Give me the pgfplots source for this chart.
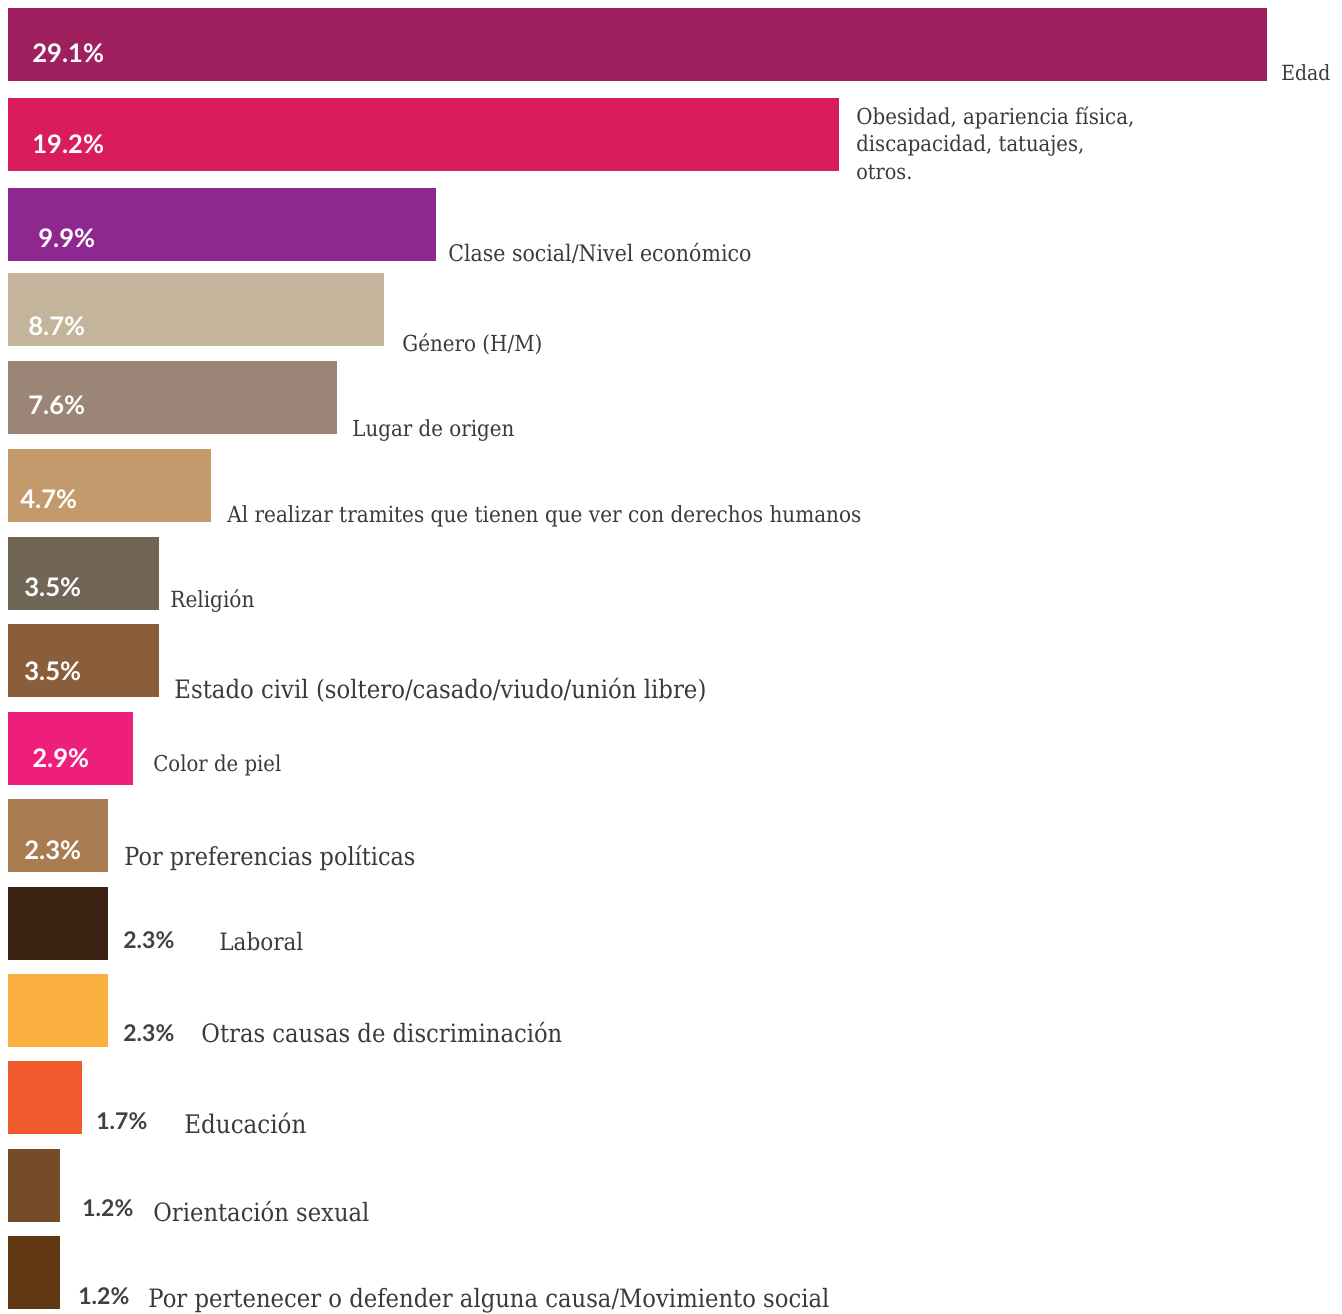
\documentclass[border=0pt]{standalone}
\usepackage{fontspec}
\usepackage{graphicx}
\usepackage{pgfplots}
\pgfplotsset{compat=1.18}

\newfontfamily\valfont{Lato}
\newfontfamily\labfont{DejaVu Serif}[FakeStretch=0.9]

\definecolor{c1}{HTML}{A01F5F}
\definecolor{c2}{HTML}{D91C5C}
\definecolor{c3}{HTML}{8E278F}
\definecolor{c4}{HTML}{C4B49B}
\definecolor{c5}{HTML}{9B8577}
\definecolor{c6}{HTML}{C39A6B}
\definecolor{c7}{HTML}{716556}
\definecolor{c8}{HTML}{8A5D3B}
\definecolor{c9}{HTML}{EE1F7A}
\definecolor{c10}{HTML}{A87C50}
\definecolor{c11}{HTML}{3C2314}
\definecolor{c12}{HTML}{FBB040}
\definecolor{c13}{HTML}{F15A2C}
\definecolor{c14}{HTML}{754C29}
\definecolor{c15}{HTML}{603913}
\definecolor{labgray}{HTML}{3A3A3A}
\definecolor{valgray}{HTML}{414042}

% one reference pixel = 0.5pt; x in percent, y in pixels from the top
\newlength\pxu
\setlength\pxu{0.5pt}
\newcommand\px[1]{{(#1-8)/43.265}}
% category label: left px, baseline px, width px, text
\newcommand\lab[4]{\node[anchor=base west,inner sep=0pt,text=labgray]
  at (axis cs:\px{#1},#2) {\resizebox{#3\pxu}{!}{\labfont #4}};}
% value label: left px, baseline px, size pt, colour, text
\newcommand\val[5]{\node[anchor=base west,inner sep=0pt,text=#4,
  font=\valfont\bfseries\fontsize{#3}{#3}\selectfont]
  at (axis cs:\px{#1},#2) {#5};}

\begin{document}
\begin{tikzpicture}
\begin{axis}[
  width=671pt, height=656.5pt, scale only axis,
  xmin=-0.18491, xmax=30.8332,
  ymin=0, ymax=1313, y dir=reverse,
  axis lines=none, ticks=none,
  clip=false,
]
\addplot[xbar, bar shift=0pt, bar width=73, fill=c1, draw=none] coordinates {(29.1,44.5)};
\addplot[xbar, bar shift=0pt, bar width=73, fill=c2, draw=none] coordinates {(19.2,134.5)};
\addplot[xbar, bar shift=0pt, bar width=73, fill=c3, draw=none] coordinates {(9.9,224.5)};
\addplot[xbar, bar shift=0pt, bar width=73, fill=c4, draw=none] coordinates {(8.7,309.5)};
\addplot[xbar, bar shift=0pt, bar width=73, fill=c5, draw=none] coordinates {(7.6,397.5)};
\addplot[xbar, bar shift=0pt, bar width=73, fill=c6, draw=none] coordinates {(4.7,485.5)};
\addplot[xbar, bar shift=0pt, bar width=73, fill=c7, draw=none] coordinates {(3.5,573.5)};
\addplot[xbar, bar shift=0pt, bar width=73, fill=c8, draw=none] coordinates {(3.5,660.5)};
\addplot[xbar, bar shift=0pt, bar width=73, fill=c9, draw=none] coordinates {(2.9,748.5)};
\addplot[xbar, bar shift=0pt, bar width=73, fill=c10, draw=none] coordinates {(2.3,835.5)};
\addplot[xbar, bar shift=0pt, bar width=73, fill=c11, draw=none] coordinates {(2.3,923.5)};
\addplot[xbar, bar shift=0pt, bar width=73, fill=c12, draw=none] coordinates {(2.3,1010.5)};
\addplot[xbar, bar shift=0pt, bar width=73, fill=c13, draw=none] coordinates {(1.7,1097.5)};
\addplot[xbar, bar shift=0pt, bar width=73, fill=c14, draw=none] coordinates {(1.2,1185.5)};
\addplot[xbar, bar shift=0pt, bar width=73, fill=c15, draw=none] coordinates {(1.2,1272.5)};

% values
\val{32}{62}{12.8}{white}{29.1\%}
\val{32}{153}{12.8}{white}{19.2\%}
\val{38}{247}{12.8}{white}{9.9\%}
\val{28}{335}{12.8}{white}{8.7\%}
\val{28}{414}{12.8}{white}{7.6\%}
\val{20}{508}{12.8}{white}{4.7\%}
\val{24}{596}{12.8}{white}{3.5\%}
\val{24}{680}{12.8}{white}{3.5\%}
\val{32}{767}{12.8}{white}{2.9\%}
\val{24}{859}{12.8}{white}{2.3\%}
\val{123}{948}{11.5}{valgray}{2.3\%}
\val{123}{1041}{11.5}{valgray}{2.3\%}
\val{96}{1129}{11.5}{valgray}{1.7\%}
\val{82}{1216}{11.5}{valgray}{1.2\%}
\val{78}{1304}{11.5}{valgray}{1.2\%}

% categories
\lab{1281}{80}{49}{Edad}
\lab{856}{124}{278}{Obesidad, apariencia física,}
\lab{856}{151}{228}{discapacidad, tatuajes,}
\lab{856}{179}{56}{otros.}
\lab{448}{261}{303}{Clase social/Nivel económico}
\lab{402}{351}{140}{Género (H/M)}
\lab{352}{436}{162}{Lugar de origen}
\lab{227}{522}{634}{Al realizar tramites que tienen que ver con derechos humanos}
\lab{170}{607}{84}{Religión}
\lab{174}{698}{532}{Estado civil (soltero/casado/viudo/unión libre)}
\lab{153}{771}{128}{Color de piel}
\lab{124}{865}{291}{Por preferencias políticas}
\lab{219}{950}{84}{Laboral}
\lab{201}{1042}{361}{Otras causas de discriminación}
\lab{184}{1133}{122}{Educación}
\lab{153}{1221}{216}{Orientación sexual}
\lab{148}{1307}{681}{Por pertenecer o defender alguna causa/Movimiento social}
\end{axis}
\pgfresetboundingbox
\useasboundingbox (current axis.south west) rectangle (current axis.north east);
\end{tikzpicture}
\end{document}
